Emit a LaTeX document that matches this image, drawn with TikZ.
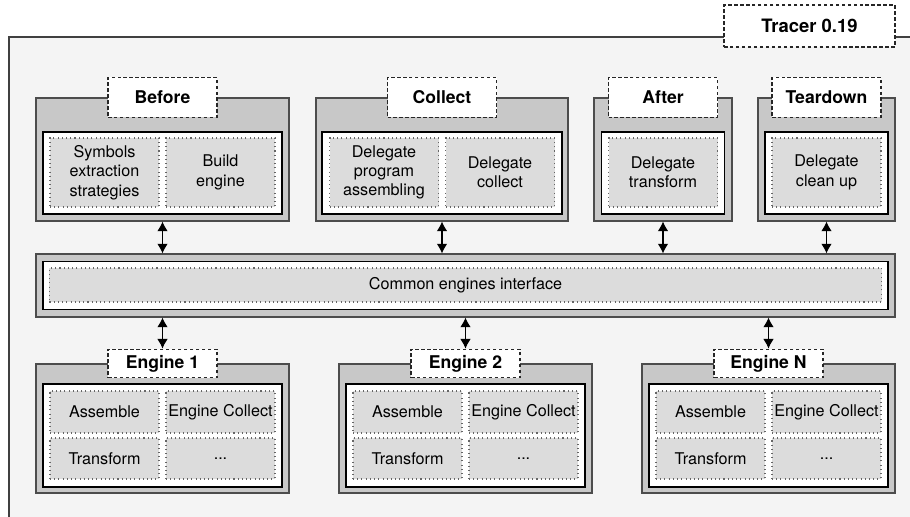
\documentclass[tikz,border=0pt]{standalone}
\usepackage{fontspec}
\setmainfont{TeX Gyre Heros}
\usetikzlibrary{arrows.meta}
\definecolor{framebg}{HTML}{F4F4F4}
\definecolor{groupbg}{HTML}{C8C8C8}
\definecolor{cellbg}{HTML}{DCDCDC}
\tikzset{>={Latex[length=5.5pt,width=6pt]}}
\tikzset{
  group/.style = {draw=black!70, fill=groupbg, line width=0.6pt},
  panel/.style = {draw=black, fill=white, line width=1pt},
  cell/.style  = {draw=black!60, fill=cellbg, line width=0.6pt,
                  dash pattern=on 0.6pt off 1.8pt, align=center, inner sep=1pt,
                  minimum width=2.18cm, font=\fontsize{9.2}{11}\selectfont},
  tag/.style   = {draw=black!85, fill=white, line width=0.6pt,
                  dash pattern=on 2pt off 1.4pt, minimum width=2.18cm,
                  font=\bfseries\fontsize{10}{12}\selectfont},
  link/.style  = {<->, line width=0.6pt}
}

\begin{document}
\begin{tikzpicture}
  \useasboundingbox (0,0) rectangle (18.2,-10.34);
  % outer frame
  \fill[framebg] (0.18,-0.74) rectangle (18.6,-11);
  \draw[black!75, line width=0.6pt] (0.18,-11) -- (0.18,-0.74) -- (18.6,-0.74);
  \node[tag, minimum width=3.42cm, minimum height=0.84cm,
        font=\bfseries\fontsize{10.5}{12}\selectfont] (tracer) at (16.19,-0.52) {Tracer 0.19};

  % before
  \node[group, minimum width=5.06cm, minimum height=2.46cm] (before) at (3.25,-3.19) {};
  \node[panel, minimum width=4.78cm, minimum height=1.64cm] at (3.25,-3.46) {};
  \node[cell, minimum height=1.38cm] (symbols) at (2.09,-3.45) {Symbols\\extraction\\strategies};
  \node[cell, minimum height=1.38cm] (build) at (4.41,-3.45) {Build\\engine};
  \node[tag, minimum height=0.8cm] (beforetag) at (before.north) {Before};

  % collect
  \node[group, minimum width=5.04cm, minimum height=2.46cm] (collect) at (8.84,-3.19) {};
  \node[panel, minimum width=4.8cm, minimum height=1.64cm] at (8.84,-3.46) {};
  \node[cell, minimum height=1.38cm] (assembling) at (7.68,-3.45) {Delegate\\program\\assembling};
  \node[cell, minimum height=1.38cm] (delegcollect) at (10.0,-3.45) {Delegate\\collect};
  \node[tag, minimum height=0.8cm] (collecttag) at (collect.north) {Collect};

  % after
  \node[group, minimum width=2.76cm, minimum height=2.46cm] (after) at (13.26,-3.19) {};
  \node[panel, minimum width=2.46cm, minimum height=1.64cm] at (13.26,-3.46) {};
  \node[cell, minimum height=1.38cm] (transform) at (13.26,-3.45) {Delegate\\transform};
  \node[tag, minimum height=0.8cm] (aftertag) at (after.north) {After};

  % teardown
  \node[group, minimum width=2.74cm, minimum height=2.46cm] (teardown) at (16.53,-3.19) {};
  \node[panel, minimum width=2.46cm, minimum height=1.64cm] at (16.53,-3.46) {};
  \node[cell, minimum height=1.38cm] (cleanup) at (16.53,-3.45) {Delegate\\clean up};
  \node[tag, minimum height=0.8cm] (teardowntag) at (teardown.north) {Teardown};

  % common interface
  \node[group, minimum width=17.18cm, minimum height=1.26cm] (iface) at (9.31,-5.71) {};
  \node[panel, minimum width=16.9cm, minimum height=0.96cm] at (9.31,-5.71) {};
  \node[cell, minimum width=16.64cm, minimum height=0.68cm] (common) at (9.31,-5.70) {Common engines interface};

  % engine 1
  \node[group, minimum width=5.06cm, minimum height=2.58cm] (eng1) at (3.25,-8.57) {};
  \node[panel, minimum width=4.78cm, minimum height=2.06cm] at (3.25,-8.71) {};
  \node[cell, minimum height=0.84cm] (asm1) at (2.09,-8.24) {Assemble};
  \node[cell, minimum height=0.84cm] (col1) at (4.41,-8.24) {Engine Collect};
  \node[cell, minimum height=0.82cm] (tr1) at (2.09,-9.17) {Transform};
  \node[cell, minimum height=0.82cm] (etc1) at (4.41,-9.17) {...};
  \node[tag, minimum height=0.56cm] (eng1tag) at (eng1.north) {Engine 1};

  % engine 2
  \node[group, minimum width=5.06cm, minimum height=2.58cm] (eng2) at (9.31,-8.57) {};
  \node[panel, minimum width=4.78cm, minimum height=2.06cm] at (9.31,-8.71) {};
  \node[cell, minimum height=0.84cm] (asm2) at (8.15,-8.24) {Assemble};
  \node[cell, minimum height=0.84cm] (col2) at (10.47,-8.24) {Engine Collect};
  \node[cell, minimum height=0.82cm] (tr2) at (8.15,-9.17) {Transform};
  \node[cell, minimum height=0.82cm] (etc2) at (10.47,-9.17) {...};
  \node[tag, minimum height=0.56cm] (eng2tag) at (eng2.north) {Engine 2};

  % engine N
  \node[group, minimum width=5.06cm, minimum height=2.58cm] (engn) at (15.37,-8.57) {};
  \node[panel, minimum width=4.78cm, minimum height=2.06cm] at (15.37,-8.71) {};
  \node[cell, minimum height=0.84cm] (asmn) at (14.21,-8.24) {Assemble};
  \node[cell, minimum height=0.84cm] (coln) at (16.53,-8.24) {Engine Collect};
  \node[cell, minimum height=0.82cm] (trn) at (14.21,-9.17) {Transform};
  \node[cell, minimum height=0.82cm] (etcn) at (16.53,-9.17) {...};
  \node[tag, minimum height=0.56cm] (engntag) at (engn.north) {Engine N};

  % links to the interface
  \draw[link] (before.south) -- (before.south |- iface.north);
  \draw[link] (collect.south) -- (collect.south |- iface.north);
  \draw[link] (after.south) -- (after.south |- iface.north);
  \draw[link] (teardown.south) -- (teardown.south |- iface.north);
  \draw[link] (iface.south -| eng1tag) -- (eng1tag.north);
  \draw[link] (iface.south -| eng2tag) -- (eng2tag.north);
  \draw[link] (iface.south -| engntag) -- (engntag.north);
\end{tikzpicture}
\end{document}
